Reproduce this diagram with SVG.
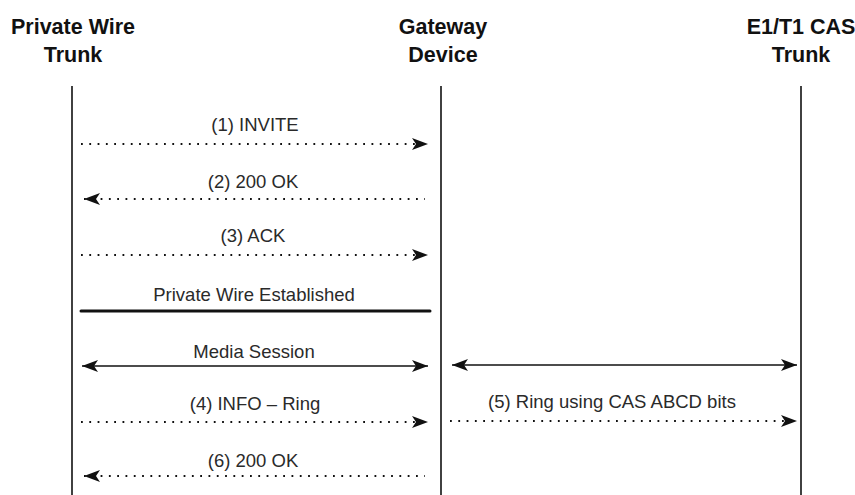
<svg xmlns="http://www.w3.org/2000/svg" width="855" height="495" viewBox="0 0 855 495">
<style>
.hdr{font-family:"Liberation Sans",Arial,sans-serif;font-weight:bold;font-size:21.5px;fill:#111;text-anchor:middle}
.lbl{font-family:"Liberation Sans",Arial,sans-serif;font-size:18.5px;fill:#2a2a2a;text-anchor:middle}
.life{stroke:#111;stroke-width:1.6;fill:none}
.dot{stroke:#111;stroke-width:1.8;stroke-dasharray:1.8 6.5;fill:none}
.solid{stroke:#111;stroke-width:1.5;fill:none}
</style>
<defs>
<marker id="ah" markerUnits="userSpaceOnUse" markerWidth="16" markerHeight="12" refX="16" refY="6" orient="auto-start-reverse">
<path d="M0,0 L16,6 L0,12 L4,6 z" fill="#111"/>
</marker>
</defs>
<rect width="855" height="495" fill="#fff"/>
<g id="pw-trunk">
<text class="hdr" x="73" y="34">Private Wire</text>
<text class="hdr" x="73" y="62">Trunk</text>
<line class="life" x1="72" y1="86" x2="72" y2="495"/>
</g>
<g id="gateway">
<text class="hdr" x="443" y="34">Gateway</text>
<text class="hdr" x="443" y="62">Device</text>
<line class="life" x1="441" y1="86" x2="441" y2="495"/>
</g>
<g id="cas-trunk">
<text class="hdr" x="801" y="34">E1/T1 CAS</text>
<text class="hdr" x="801" y="62">Trunk</text>
<line class="life" x1="801" y1="86" x2="801" y2="495"/>
</g>
<g id="connectors">
<line class="dot" x1="81" y1="144" x2="428" y2="144" marker-end="url(#ah)"/>
<text class="lbl" x="255" y="131">(1) INVITE</text>
<line class="dot" x1="84" y1="199" x2="425" y2="199" marker-start="url(#ah)"/>
<text class="lbl" x="253" y="188">(2) 200 OK</text>
<line class="dot" x1="81" y1="255" x2="428" y2="255" marker-end="url(#ah)"/>
<text class="lbl" x="253" y="242">(3) ACK</text>
<line x1="81" y1="311" x2="430" y2="311" stroke="#111" stroke-width="3" stroke-linecap="round"/>
<text class="lbl" x="254" y="301">Private Wire Established</text>
<line class="solid" x1="82" y1="366" x2="428" y2="366" marker-start="url(#ah)" marker-end="url(#ah)"/>
<text class="lbl" x="254" y="358">Media Session</text>
<line class="solid" x1="452" y1="365" x2="797" y2="365" marker-start="url(#ah)" marker-end="url(#ah)"/>
<line class="dot" x1="81" y1="422" x2="428" y2="422" marker-end="url(#ah)"/>
<text class="lbl" x="255" y="410">(4) INFO – Ring</text>
<line class="dot" x1="450" y1="421" x2="797" y2="421" marker-end="url(#ah)"/>
<text class="lbl" x="612" y="408">(5) Ring using CAS ABCD bits</text>
<line class="dot" x1="84" y1="476" x2="425" y2="476" marker-start="url(#ah)"/>
<text class="lbl" x="253" y="467">(6) 200 OK</text>
</g>
</svg>
